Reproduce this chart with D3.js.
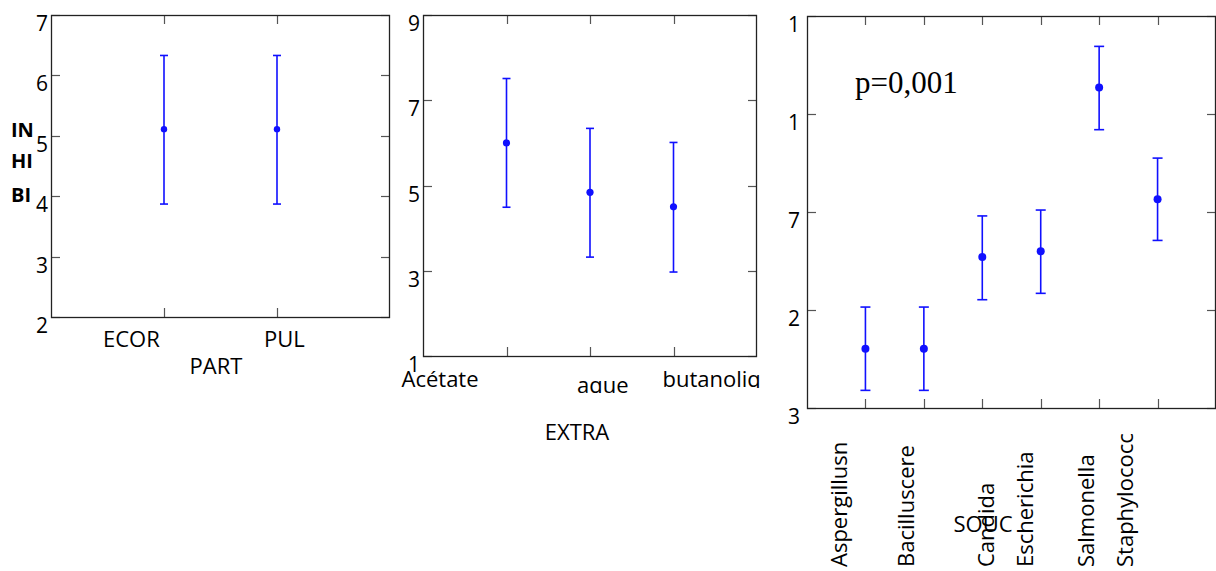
<!DOCTYPE html>
<html>
<head>
<meta charset="utf-8">
<script src="https://cdn.jsdelivr.net/npm/d3@7"></script>
<style>
  body { margin: 0; background: #fff; }
  svg text { font-family: "Open Sans", sans-serif; fill: #000; }
</style>
</head>
<body>
<svg id="chart" width="1216" height="571"></svg>
<script>
// panel 1 : PART
const partCats = ["ECOR", "PUL"];
const partMean = [5.11, 5.11];
const partLow = [3.87, 3.87];
const partHigh = [6.33, 6.33];
const partTicks = [2, 3, 4, 5, 6, 7];

// panel 2 : EXTRA
const extraCats = ["Acétate", "aque", "butanoliq"];
const extraMean = [6.0, 4.84, 4.5];
const extraLow = [4.49, 3.32, 2.97];
const extraHigh = [7.51, 6.34, 6.01];
const extraTicks = [1, 3, 5, 7, 9];

// panel 3 : SOUC (tick labels are truncated in the original)
const soucCats = ["Aspergillusn", "Bacilluscere", "Candida", "Escherichia", "Salmonella", "Staphylococc"];
const soucMean = [0.605, 0.605, 1.54, 1.60, 3.27, 2.13];
const soucLow = [0.18, 0.18, 1.105, 1.17, 2.84, 1.71];
const soucHigh = [1.03, 1.03, 1.96, 2.02, 3.69, 2.55];
const soucTicks = [0, 1, 2, 3, 4];
const soucTickLabels = ["3", "2", "7", "1", "1"];

const blue = "#1010ff";
const svg = d3.select("#chart");

function panel(cfg) {
  const n = cfg.cats.length;
  const x = d3.scaleLinear().domain([0, n + 1]).range([cfg.left, cfg.right]);
  const y = d3.scaleLinear().domain(cfg.yDomain).range([cfg.bottom, cfg.top]);
  const g = svg.append("g");
  const idx = d3.range(n);

  // inward ticks on all four sides
  const tk = 9;
  g.selectAll(".tx").data(idx).join("g").each(function (i) {
    const xx = Math.round(x(i + 1)) + 0.5;
    d3.select(this).append("line").attr("x1", xx).attr("x2", xx)
      .attr("y1", cfg.top).attr("y2", cfg.top + tk);
    d3.select(this).append("line").attr("x1", xx).attr("x2", xx)
      .attr("y1", cfg.bottom).attr("y2", cfg.bottom - tk);
  }).attr("stroke", "#555").attr("stroke-width", 1.2);

  g.selectAll(".ty").data(cfg.ticks).join("g").each(function (t) {
    const yy = Math.round(y(t)) + 0.5;
    d3.select(this).append("line").attr("x1", cfg.left).attr("x2", cfg.left + tk)
      .attr("y1", yy).attr("y2", yy);
    d3.select(this).append("line").attr("x1", cfg.right).attr("x2", cfg.right - tk)
      .attr("y1", yy).attr("y2", yy);
  }).attr("stroke", "#555").attr("stroke-width", 1.2);

  g.append("rect")
    .attr("x", cfg.left + 0.5).attr("y", cfg.top + 0.5)
    .attr("width", cfg.right - cfg.left - 1).attr("height", cfg.bottom - cfg.top)
    .attr("fill", "none").attr("stroke", "#222").attr("stroke-width", 1.3);

  // y tick labels
  g.selectAll(".yl").data(cfg.ticks).join("text")
    .attr("x", cfg.yLabelX)
    .attr("y", t => y(t) + 16)
    .attr("text-anchor", "end")
    .attr("font-size", 21)
    .text((t, i) => cfg.tickLabels ? cfg.tickLabels[i] : t);

  // error bars
  const cap = cfg.cap;
  const eb = g.selectAll(".eb").data(idx).join("g")
    .attr("stroke", blue).attr("stroke-width", 1.6);
  eb.append("line")
    .attr("x1", i => x(i + 1)).attr("x2", i => x(i + 1))
    .attr("y1", i => y(cfg.low[i])).attr("y2", i => y(cfg.high[i]));
  eb.append("line")
    .attr("x1", i => x(i + 1) - cap).attr("x2", i => x(i + 1) + cap)
    .attr("y1", i => y(cfg.low[i])).attr("y2", i => y(cfg.low[i]));
  eb.append("line")
    .attr("x1", i => x(i + 1) - cap).attr("x2", i => x(i + 1) + cap)
    .attr("y1", i => y(cfg.high[i])).attr("y2", i => y(cfg.high[i]));
  g.selectAll(".dot").data(idx).join("circle")
    .attr("cx", i => x(i + 1)).attr("cy", i => y(cfg.mean[i]))
    .attr("r", cfg.r).attr("fill", blue);

  return { g, x, y };
}

// ---------- panel 1 ----------
const p1 = panel({
  cats: partCats, mean: partMean, low: partLow, high: partHigh,
  ticks: partTicks, yDomain: [2, 7],
  left: 51, right: 390, top: 15, bottom: 317, yLabelX: 48, cap: 4, r: 3.2
});
const p1dx = [-61, -13];
p1.g.selectAll(".xl").data(partCats).join("text")
  .attr("x", (d, i) => p1.x(i + 1) + p1dx[i]).attr("y", 347)
  .attr("font-size", 22).text(d => d);
p1.g.append("text").attr("x", 216).attr("y", 374).attr("text-anchor", "middle")
  .attr("font-size", 22).text("PART");
[["IN", 137], ["HI", 168], ["BI", 202]].forEach(([t, yy]) => {
  p1.g.append("text").attr("x", 11).attr("y", yy).attr("font-size", 20)
    .attr("font-weight", "bold").text(t);
});

// ---------- panel 2 ----------
const p2 = panel({
  cats: extraCats, mean: extraMean, low: extraLow, high: extraHigh,
  ticks: extraTicks, yDomain: [1, 9],
  left: 423, right: 757, top: 15, bottom: 356, yLabelX: 420, cap: 4, r: 3.6
});
const p2dx = [-105, -13, -11];
const p2base = [387, 393, 387];
const p2clipY = [400, 393, 388];
const defs = svg.append("defs");
extraCats.forEach((c, i) => {
  defs.append("clipPath").attr("id", "clipx" + i).append("rect")
    .attr("x", 380).attr("y", 360).attr("width", 383)
    .attr("height", p2clipY[i] - 360);
});
p2.g.selectAll(".xl").data(extraCats).join("text")
  .attr("x", (d, i) => p2.x(i + 1) + p2dx[i]).attr("y", (d, i) => p2base[i])
  .attr("clip-path", (d, i) => `url(#clipx${i})`)
  .attr("font-size", 22).text(d => d);
p2.g.append("text").attr("x", 577).attr("y", 440).attr("text-anchor", "middle")
  .attr("font-size", 22).text("EXTRA");

// ---------- panel 3 ----------
const p3 = panel({
  cats: soucCats, mean: soucMean, low: soucLow, high: soucHigh,
  ticks: soucTicks, tickLabels: soucTickLabels, yDomain: [0, 4],
  left: 807, right: 1216, top: 16, bottom: 408, yLabelX: 800, cap: 5, r: 4
});
const p3dx = [-18, -10, 12, -8, -5, -25];
p3.g.selectAll(".xl").data(soucCats).join("text")
  .attr("transform", (d, i) => `translate(${p3.x(i + 1) + p3dx[i]},567) rotate(-90)`)
  .attr("font-size", 22).text(d => d);
p3.g.append("text").attr("x", 983).attr("y", 532).attr("text-anchor", "middle")
  .attr("font-size", 22).text("SOUC");
p3.g.append("text").attr("x", 855).attr("y", 93)
  .style("font-family", "'Liberation Serif', 'Times New Roman', serif")
  .attr("font-size", 31).text("p=0,001");
</script>
</body>
</html>
